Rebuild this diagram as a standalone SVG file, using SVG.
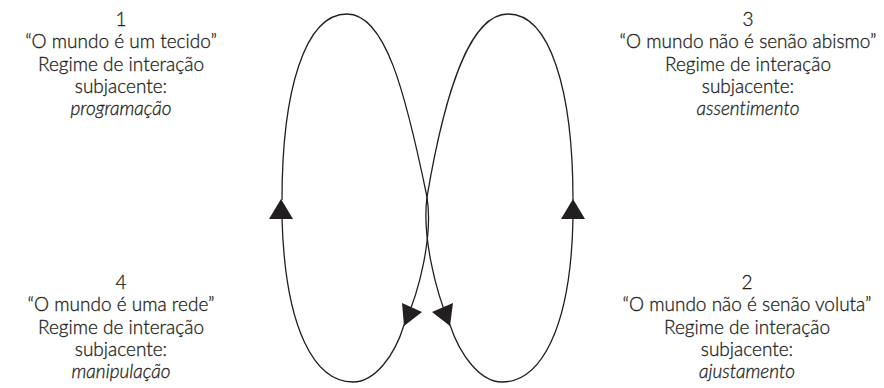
<svg xmlns="http://www.w3.org/2000/svg" width="884" height="388" viewBox="0 0 884 388">
<style>
.t{font-family:Lato,"Open Sans","Liberation Sans",sans-serif;font-size:19px;font-weight:300;fill:#231f20;stroke:#231f20;stroke-width:0.3;text-anchor:middle;font-variant-ligatures:none}
.i{font-style:italic}
.c{fill:none;stroke:#231f20;stroke-width:1.3}
.a{fill:#231f20}
</style>
<rect width="884" height="388" fill="#fff"/>
<g id="connectors">
<path class="c" d="M282 200 C282 90 305 14 347 14 C385 14 405 90 427 197 C433 235 420 290 404 325 C395 355 375 382 353 382 C315 382 285 330 282 218"/>
<path class="c" d="M573 200 C573 90 550 14 508 14 C470 14 445 90 427 197 C422 235 435 290 450 325 C460 355 480 382 502 382 C540 382 571 330 573 218"/>
<polygon class="a" points="281,199 269,219 293,219"/>
<polygon class="a" points="573,199 561,219 585,219"/>
<polygon class="a" points="402,303 422,312 404,326"/>
<polygon class="a" points="453,303 432,312 450,326"/>
</g>
<g id="node1">
<text class="t" x="121" y="26">1</text>
<text class="t" x="121" y="48.3">“O mundo é um tecido”</text>
<text class="t" x="121" y="70.6">Regime de interação</text>
<text class="t" x="121" y="92.9">subjacente:</text>
<text class="t i" x="121" y="115.2">programação</text>
</g>
<g id="node3">
<text class="t" x="748" y="26">3</text>
<text class="t" x="748" y="48.3">“O mundo não é senão abismo”</text>
<text class="t" x="748" y="70.6">Regime de interação</text>
<text class="t" x="748" y="92.9">subjacente:</text>
<text class="t i" x="748" y="115.2">assentimento</text>
</g>
<g id="node4">
<text class="t" x="121" y="289">4</text>
<text class="t" x="121" y="311.3">“O mundo é uma rede”</text>
<text class="t" x="121" y="333.6">Regime de interação</text>
<text class="t" x="121" y="355.9">subjacente:</text>
<text class="t i" x="121" y="378.2">manipulação</text>
</g>
<g id="node2">
<text class="t" x="747" y="289">2</text>
<text class="t" x="747" y="311.3">“O mundo não é senão voluta”</text>
<text class="t" x="747" y="333.6">Regime de interação</text>
<text class="t" x="747" y="355.9">subjacente:</text>
<text class="t i" x="747" y="378.2">ajustamento</text>
</g>
</svg>
